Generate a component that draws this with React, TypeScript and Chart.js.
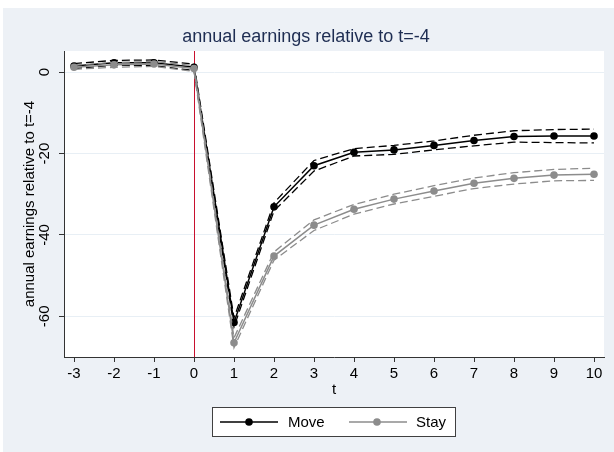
import React, { useEffect, useRef } from 'react';
import { Chart, registerables } from 'chart.js';

Chart.register(...registerables);

const tValues = [-3, -2, -1, 0, 1, 2, 3, 4, 5, 6, 7, 8, 9, 10];
const moveMean = [1.5, 2.3, 2.3, 1.2, -61.5, -33.1, -23.0, -19.7, -19.1, -18.0, -16.8, -15.8, -15.7, -15.7];
const moveUpper = [2.1, 2.9, 3.0, 2.0, -60.4, -32.1, -21.7, -18.8, -18.0, -16.9, -15.5, -14.4, -14.1, -14.0];
const moveLower = [0.9, 1.7, 1.6, 0.4, -62.6, -34.1, -24.3, -20.6, -20.2, -19.1, -18.1, -17.2, -17.3, -17.4];
const stayMean = [1.2, 1.8, 2.0, 0.9, -66.5, -45.2, -37.6, -33.7, -31.2, -29.2, -27.3, -26.1, -25.3, -25.1];
const stayUpper = [1.7, 2.4, 2.6, 1.6, -65.3, -44.2, -36.3, -32.5, -30.0, -27.9, -26.0, -24.7, -23.9, -23.6];
const stayLower = [0.7, 1.2, 1.4, 0.2, -67.7, -46.2, -38.9, -34.9, -32.4, -30.5, -28.6, -27.5, -26.7, -26.6];

const xTickValues = [-3, -2, -1, 0, 1, 2, 3, 4, 5, 6, 7, 8, 9, 10];
const yTickValues = [-60, -40, -20, 0];
const eventLine = 0;

const titleText = 'annual earnings relative to t=-4';
const yAxisTitle = 'annual earnings relative to t=-4';
const xAxisTitle = 't';
const legendLabels = ['Move', 'Stay'];

const FONT = "'Liberation Sans', Arial, sans-serif";
const MOVE_COLOR = '#000000';
const STAY_COLOR = '#8c8c8c';
const AXIS_COLOR = '#333333';

const toPts = (arr: number[]) => arr.map((v, i) => ({ x: tValues[i], y: v }));

const decorPlugin = {
  id: 'decor',
  beforeDraw(chart: any) {
    const { ctx, chartArea } = chart;
    ctx.save();
    ctx.fillStyle = '#ffffff';
    ctx.fillRect(chartArea.left, chartArea.top, chartArea.right - chartArea.left, chartArea.bottom - chartArea.top);
    ctx.restore();
  },
  beforeDatasetsDraw(chart: any) {
    const { ctx, chartArea, scales } = chart;
    const x = Math.round(scales.x.getPixelForValue(eventLine)) + 0.5;
    ctx.save();
    ctx.strokeStyle = '#c8102e';
    ctx.lineWidth = 1;
    ctx.beginPath();
    ctx.moveTo(x, chartArea.top);
    ctx.lineTo(x, chartArea.bottom);
    ctx.stroke();
    ctx.restore();
  },
  afterDraw(chart: any) {
    const { ctx, chartArea, scales } = chart;
    ctx.save();
    // title
    ctx.fillStyle = '#1e2d52';
    ctx.font = `18px ${FONT}`;
    ctx.textAlign = 'center';
    ctx.textBaseline = 'alphabetic';
    ctx.fillText(titleText, 303, 34);

    // y tick labels (rotated)
    ctx.fillStyle = '#000000';
    ctx.font = `15px ${FONT}`;
    yTickValues.forEach((v) => {
      const y = scales.y.getPixelForValue(v);
      ctx.save();
      ctx.translate(42, y);
      ctx.rotate(-Math.PI / 2);
      ctx.textAlign = 'center';
      ctx.textBaseline = 'middle';
      ctx.fillText(String(v), 0, 0);
      ctx.restore();
    });

    // y axis title
    ctx.save();
    ctx.translate(27, (chartArea.top + chartArea.bottom) / 2);
    ctx.rotate(-Math.PI / 2);
    ctx.textAlign = 'center';
    ctx.textBaseline = 'middle';
    ctx.fillText(yAxisTitle, 0, 0);
    ctx.restore();

    // x axis title
    ctx.textAlign = 'center';
    ctx.textBaseline = 'middle';
    ctx.fillText(xAxisTitle, (chartArea.left + chartArea.right) / 2, 382);

    // legend
    const lx = 209.5, ly = 399.5, lw = 243, lh = 29;
    ctx.fillStyle = '#ffffff';
    ctx.fillRect(lx, ly, lw, lh);
    ctx.strokeStyle = '#404040';
    ctx.lineWidth = 1;
    ctx.strokeRect(lx, ly, lw, lh);
    const cy = 414;
    const items = [
      { x0: 217, x1: 275, mx: 246, tx: 285, color: MOVE_COLOR, label: legendLabels[0] },
      { x0: 346, x1: 404, mx: 374, tx: 413, color: STAY_COLOR, label: legendLabels[1] },
    ];
    items.forEach((it) => {
      ctx.strokeStyle = it.color;
      ctx.lineWidth = 1.5;
      ctx.beginPath();
      ctx.moveTo(it.x0, cy);
      ctx.lineTo(it.x1, cy);
      ctx.stroke();
      ctx.fillStyle = it.color;
      ctx.beginPath();
      ctx.arc(it.mx, cy, 3.8, 0, Math.PI * 2);
      ctx.fill();
      ctx.fillStyle = '#000000';
      ctx.font = `15px ${FONT}`;
      ctx.textAlign = 'left';
      ctx.textBaseline = 'middle';
      ctx.fillText(it.label, it.tx, cy + 1);
    });
    ctx.restore();
  },
};

export default function App() {
  const canvasRef = useRef<HTMLCanvasElement | null>(null);

  useEffect(() => {
    if (!canvasRef.current) return;
    const ciStyle = (color: string) => ({
      borderColor: color,
      borderWidth: 1.3,
      borderDash: [8, 4],
      pointRadius: 0,
      fill: false,
      tension: 0,
    });
    const mainStyle = (color: string) => ({
      borderColor: color,
      backgroundColor: color,
      borderWidth: 1.5,
      pointRadius: 3.8,
      pointBorderWidth: 0,
      pointBackgroundColor: color,
      fill: false,
      tension: 0,
    });
    const chart = new Chart(canvasRef.current, {
      type: 'line',
      data: {
        datasets: [
          { label: 'Stay', data: toPts(stayMean), order: 0, ...mainStyle(STAY_COLOR) },
          { label: 'Stay upper', data: toPts(stayUpper), order: 1, ...ciStyle(STAY_COLOR) },
          { label: 'Stay lower', data: toPts(stayLower), order: 1, ...ciStyle(STAY_COLOR) },
          { label: 'Move', data: toPts(moveMean), order: 2, ...mainStyle(MOVE_COLOR) },
          { label: 'Move upper', data: toPts(moveUpper), order: 3, ...ciStyle(MOVE_COLOR) },
          { label: 'Move lower', data: toPts(moveLower), order: 3, ...ciStyle(MOVE_COLOR) },
        ] as any,
      },
      options: {
        animation: false,
        responsive: false,
        devicePixelRatio: 1,
        layout: { padding: { top: 43, right: 10, left: 0, bottom: 0 } },
        plugins: {
          legend: { display: false },
          title: { display: false },
          tooltip: { enabled: false },
        },
        scales: {
          x: {
            type: 'linear',
            min: -3.25,
            max: 10.25,
            afterBuildTicks: (s: any) => {
              s.ticks = xTickValues.map((v) => ({ value: v }));
            },
            afterFit: (s: any) => {
              s.height = 95;
            },
            ticks: {
              color: '#000000',
              font: { size: 15, family: FONT },
              padding: 3,
              maxRotation: 0,
              autoSkip: false,
              callback: (v: any) => String(v),
            },
            grid: {
              drawOnChartArea: false,
              drawTicks: true,
              tickLength: 5,
              tickColor: AXIS_COLOR,
              color: AXIS_COLOR,
            },
            border: { color: AXIS_COLOR, width: 1 },
          },
          y: {
            type: 'linear',
            min: -70,
            max: 5.2,
            afterBuildTicks: (s: any) => {
              s.ticks = yTickValues.map((v) => ({ value: v }));
            },
            afterFit: (s: any) => {
              s.width = 61;
            },
            ticks: { display: false },
            grid: {
              drawOnChartArea: true,
              drawTicks: true,
              tickLength: 5,
              tickColor: AXIS_COLOR,
              color: '#e8eff5',
              lineWidth: 1,
            },
            border: { color: AXIS_COLOR, width: 1 },
          },
        },
      },
      plugins: [decorPlugin],
    });
    return () => chart.destroy();
  }, []);

  return (
    <div
      style={{
        position: 'fixed',
        left: 3,
        top: 8,
        width: 611,
        height: 444,
        background: '#edf1f6',
      }}
    >
      <canvas ref={canvasRef} width={611} height={444} style={{ display: 'block' }} />
    </div>
  );
}
